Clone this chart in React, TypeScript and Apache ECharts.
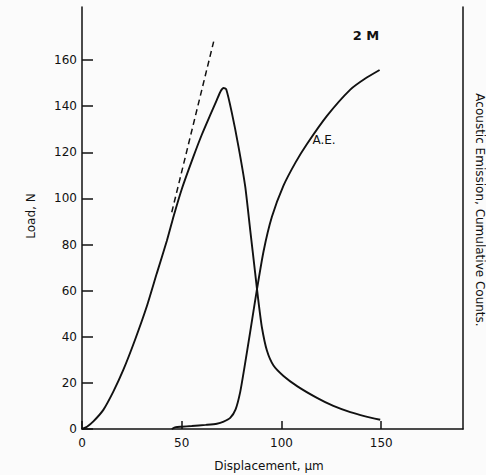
import React, { useEffect, useRef } from "react";
import * as echarts from "echarts";

const loadX = [0, 2.5, 5.7, 10.7, 15.7, 20.7, 26.6, 32.5, 37.5, 42.5, 46, 50, 55.8, 60, 64.2, 67.5, 69.5, 71, 72.3, 75.1, 78.4, 81.8, 84.3, 86.8, 88.5, 90.2, 92.7, 96, 101, 108, 117.8, 126, 134.5, 142, 149.5];
const loadY = [0, 1, 3.3, 8.3, 16.2, 25.6, 38.7, 53.2, 67.5, 81.5, 92.5, 104, 118, 127.5, 136, 142.5, 146.5, 147.9, 147.3, 137.2, 122.7, 105.3, 86.5, 67.7, 55, 44, 34, 27.5, 23, 18.5, 13.5, 10, 7.3, 5.5, 4];

const aeX = [45, 47, 50, 55, 62, 67.6, 71, 74.3, 77, 79.3, 81.3, 84.3, 87.6, 91, 95.2, 101, 107, 112.7, 122.8, 134.5, 142, 149.2];
const aeY = [0, 0.8, 1.0, 1.3, 1.8, 2.3, 3.2, 4.8, 8.5, 16, 26, 42, 60, 77, 92, 105.5, 115.5, 123.5, 135.8, 147.2, 152, 155.7];

const tangentX = [45, 66];
const tangentY = [94, 168];

const xTicks = [0, 50, 100, 150];
const yTicks = [0, 20, 40, 60, 80, 100, 120, 140, 160];

const FONT = "DejaVu Sans";
const INK = "#111";

export default function App() {
  const ref = useRef<HTMLDivElement>(null);
  useEffect(() => {
    if (!ref.current) return;
    const chart = echarts.init(ref.current, undefined, { renderer: "svg" });
    const pairs = (xs: number[], ys: number[]) => xs.map((x, i) => [x, ys[i]]);
    chart.setOption({
      animation: false,
      backgroundColor: "#fbfbfb",
      grid: { left: 82, right: 23, top: 7, bottom: 46 },
      xAxis: {
        type: "value",
        min: 0,
        max: 191,
        axisLine: { lineStyle: { color: INK, width: 1.5 } },
        axisTick: { inside: true, length: 8, customValues: xTicks, lineStyle: { color: INK, width: 1.5 } },
        axisLabel: { customValues: xTicks, margin: 8, fontFamily: FONT, fontSize: 12, color: INK },
        splitLine: { show: false },
      },
      yAxis: [
        {
          type: "value",
          position: "left",
          min: 0,
          max: 183,
          axisLine: { show: true, lineStyle: { color: INK, width: 1.5 } },
          axisTick: { show: true, inside: true, length: 11, customValues: yTicks, lineStyle: { color: INK, width: 1.5 } },
          axisLabel: { customValues: yTicks, margin: 5, fontFamily: FONT, fontSize: 12, color: INK },
          splitLine: { show: false },
        },
        {
          type: "value",
          position: "right",
          min: 0,
          max: 183,
          axisLine: { show: true, lineStyle: { color: INK, width: 1.5 } },
          axisTick: { show: false },
          axisLabel: { show: false },
          splitLine: { show: false },
        },
      ],
      series: [
        {
          name: "Load",
          type: "line",
          data: pairs(loadX, loadY),
          showSymbol: false,
          smooth: 0.2,
          lineStyle: { color: INK, width: 1.9 },
        },
        {
          name: "A.E.",
          type: "line",
          data: pairs(aeX, aeY),
          showSymbol: false,
          smooth: 0.2,
          lineStyle: { color: INK, width: 1.9 },
        },
        {
          name: "Tangent",
          type: "line",
          data: pairs(tangentX, tangentY),
          showSymbol: false,
          lineStyle: { color: INK, width: 1.5, type: [6, 4] },
        },
      ],
      graphic: [
        {
          type: "text",
          x: 31,
          y: 216,
          rotation: Math.PI / 2,
          style: { text: "Load, N", fontFamily: FONT, fontSize: 12, fill: INK, textAlign: "center", textVerticalAlign: "middle" },
        },
        {
          type: "text",
          x: 269,
          y: 466,
          style: { text: "Displacement, µm", fontFamily: FONT, fontSize: 12, fill: INK, textAlign: "center", textVerticalAlign: "middle" },
        },
        {
          type: "text",
          x: 480,
          y: 210,
          rotation: -Math.PI / 2,
          style: { text: "Acoustic Emission, Cumulative Counts.", fontFamily: FONT, fontSize: 12, fill: INK, textAlign: "center", textVerticalAlign: "middle" },
        },
        {
          type: "text",
          x: 366,
          y: 35,
          style: { text: "2 M", fontFamily: FONT, fontSize: 13, fontWeight: "bold", fill: INK, textAlign: "center", textVerticalAlign: "middle" },
        },
        {
          type: "text",
          x: 324,
          y: 140,
          style: { text: "A.E.", fontFamily: FONT, fontSize: 12, fill: INK, textAlign: "center", textVerticalAlign: "middle" },
        },
      ],
    });
    return () => chart.dispose();
  }, []);
  return <div ref={ref} style={{ position: "fixed", left: 0, top: 0, width: 486, height: 475 }} />;
}
